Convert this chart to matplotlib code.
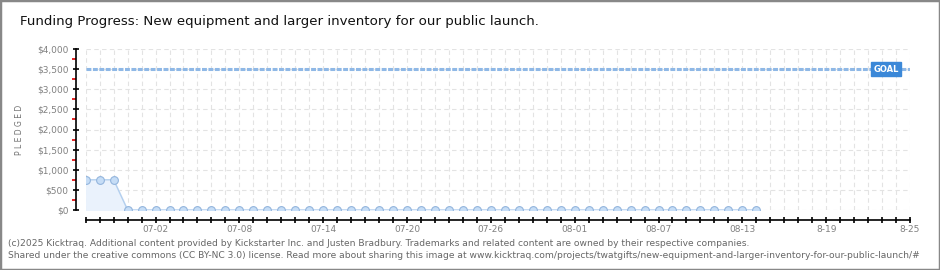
import matplotlib
matplotlib.use("Agg")
import matplotlib.pyplot as plt
from matplotlib.patches import Rectangle
from matplotlib.ticker import FixedLocator, FixedFormatter, FuncFormatter

# days from 06-27 to 08-25
days = ["06-27", "06-28", "06-29", "06-30", "07-01", "07-02", "07-03", "07-04", "07-05", "07-06",
        "07-07", "07-08", "07-09", "07-10", "07-11", "07-12", "07-13", "07-14", "07-15", "07-16",
        "07-17", "07-18", "07-19", "07-20", "07-21", "07-22", "07-23", "07-24", "07-25", "07-26",
        "07-27", "07-28", "07-29", "07-30", "07-31", "08-01", "08-02", "08-03", "08-04", "08-05",
        "08-06", "08-07", "08-08", "08-09", "08-10", "08-11", "08-12", "08-13", "08-14", "08-15",
        "08-16", "08-17", "08-18", "8-19", "08-20", "08-21", "08-22", "08-23", "08-24", "8-25"]
pledged = [750, 750, 750, 0, 0, 0, 0, 0, 0, 0,
           0, 0, 0, 0, 0, 0, 0, 0, 0, 0,
           0, 0, 0, 0, 0, 0, 0, 0, 0, 0,
           0, 0, 0, 0, 0, 0, 0, 0, 0, 0,
           0, 0, 0, 0, 0, 0, 0, 0, 0]
goal = 3500
label_days = ["07-02", "07-08", "07-14", "07-20", "07-26", "08-01", "08-07", "08-13", "8-19", "8-25"]
y_ticks = [0, 500, 1000, 1500, 2000, 2500, 3000, 3500, 4000]

W, H = 940, 270
fig = plt.figure(figsize=(W / 100, H / 100), dpi=100)
ax = fig.add_axes([85.7 / W, (H - 210) / H, (910 - 85.7) / W, (210 - 49) / H])

x = list(range(len(pledged)))
ax.fill_between(x, pledged, 0, color="#eaf2fc", zorder=1)
ax.plot(x, pledged, color="#b3cfee", lw=1, zorder=3,
        marker="o", ms=5.6, mfc="#c6ddf6", mec="#93b5dd", mew=0.8)
ax.axhline(goal, color="#8fb8e6", lw=2.2, ls=(0, (1.6, 0.5)), zorder=2)
ax.text(57.3, goal, "GOAL", color="white", fontsize=6, fontweight="bold",
        ha="center", va="center", zorder=5,
        bbox=dict(boxstyle="square,pad=0.3", fc="#3b88d8", ec="#3b88d8"))

ax.set_xlim(0, len(days) - 1)
ax.set_ylim(0, 4000)

# grid
for i in range(len(days)):
    ax.axvline(i, color="#e3e3e3", lw=0.8, ls=(0, (4, 3)), zorder=0)
for v in y_ticks:
    ax.axhline(v, color="#e3e3e3", lw=0.8, ls=(0, (4, 3)), zorder=0)

for s in ["top", "right"]:
    ax.spines[s].set_visible(False)
ax.spines["left"].set_position(("outward", 7))
ax.spines["bottom"].set_position(("outward", 7.5))
ax.spines["left"].set_bounds(0, 4000)
ax.spines["bottom"].set_bounds(0, len(days) - 1)
for s in ["left", "bottom"]:
    ax.spines[s].set_linewidth(1.2)

ax.yaxis.set_major_locator(FixedLocator(y_ticks))
ax.yaxis.set_major_formatter(FuncFormatter(lambda v, p: "${:,.0f}".format(v)))
ax.yaxis.set_minor_locator(FixedLocator([v + 250 for v in y_ticks[:-1]]))
ax.tick_params(axis="y", which="major", direction="inout", length=5, width=1.2,
               labelsize=6.5, labelcolor="#808080", pad=3)
ax.tick_params(axis="y", which="minor", direction="out", length=3, width=1.2, color="#e00000")

ax.xaxis.set_major_locator(FixedLocator(list(range(len(days)))))
ax.xaxis.set_major_formatter(FixedFormatter([d if d in label_days else "" for d in days]))
ax.tick_params(axis="x", direction="inout", length=5, width=1.2,
               labelsize=6.5, labelcolor="#808080", pad=1)

fig.text(19 / W, 1 - 130 / H, "P L E D G E D", rotation=90, fontsize=5.5,
         color="#707070", ha="center", va="center")
fig.text(20 / W, 1 - 22 / H,
         "Funding Progress: New equipment and larger inventory for our public launch.",
         fontsize=9.6, color="#111111", ha="left", va="center")
fig.text(8 / W, 1 - 243 / H,
         "(c)2025 Kicktraq. Additional content provided by Kickstarter Inc. and Justen Bradbury. "
         "Trademarks and related content are owned by their respective companies.",
         fontsize=6.6, color="#666666", ha="left", va="center")
fig.text(8 / W, 1 - 255 / H,
         "Shared under the creative commons (CC BY-NC 3.0) license. Read more about sharing this image at "
         "www.kicktraq.com/projects/twatgifts/new-equipment-and-larger-inventory-for-our-public-launch/#",
         fontsize=6.6, color="#666666", ha="left", va="center")

fig.patches.append(Rectangle((0, 0), 1, 1, transform=fig.transFigure, fill=False,
                             ec="#888888", lw=2.5))

fig.savefig("out.png", dpi=100)
